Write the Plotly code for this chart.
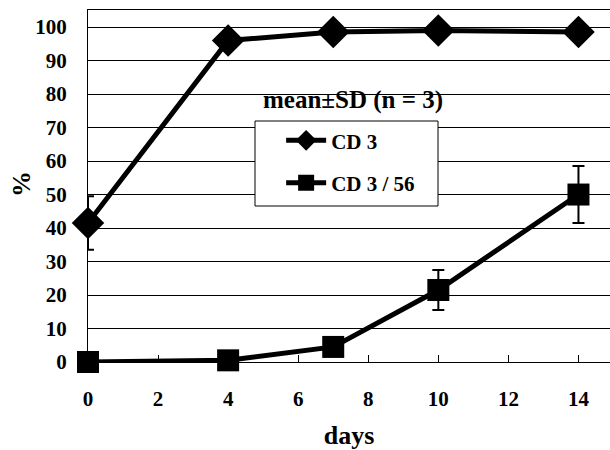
import plotly.graph_objects as go

days = [0, 4, 7, 10, 14]
cd3_mean = [41.5, 96, 98.5, 99, 98.5]
cd3_sd = [8, 1, 0.5, 0.5, 0.5]
cd356_mean = [0, 0.5, 4.5, 21.5, 50]
cd356_sd = [0.3, 0.3, 1, 6, 8.5]
x_ticks = [0, 2, 4, 6, 8, 10, 12, 14]
y_ticks = [0, 10, 20, 30, 40, 50, 60, 70, 80, 90, 100]

FONT = "Liberation Serif, Times New Roman, DejaVu Serif, serif"

fig = go.Figure()
fig.add_trace(go.Scatter(
    x=days, y=cd3_mean, name="<b>CD 3</b>", mode="lines+markers",
    line=dict(color="black", width=5),
    marker=dict(symbol="diamond", size=25, color="black"),
    error_y=dict(type="data", array=cd3_sd, color="black", thickness=2, width=6),
    cliponaxis=False, legendgroup="a",
))
fig.add_trace(go.Scatter(
    x=days, y=cd356_mean, name="<b>CD 3 / 56</b>", mode="lines+markers",
    line=dict(color="black", width=5),
    marker=dict(symbol="square", size=22, color="black"),
    error_y=dict(type="data", array=cd356_sd, color="black", thickness=2, width=6),
    cliponaxis=False, legendgroup="b",
))

fig.update_layout(
    width=610, height=450,
    margin=dict(l=88, r=0, t=10, b=88),
    paper_bgcolor="white", plot_bgcolor="white",
    font=dict(family=FONT, color="black", size=21),
    showlegend=True,
    legend=dict(
        x=0.37, y=0.687, xanchor="left", yanchor="top",
        bgcolor="rgba(0,0,0,0)", borderwidth=0,
        font=dict(family=FONT, size=21, color="black"),
        traceorder="grouped", tracegroupgap=12, itemwidth=40,
    ),
    shapes=[dict(
        type="rect", xref="paper", yref="paper",
        x0=(255 - 88) / 522, x1=(438 - 88) / 522,
        y0=(362 - 206) / 352, y1=(362 - 121) / 352,
        line=dict(color="black", width=1), fillcolor="white", layer="above",
    )],
    xaxis=dict(
        range=[0, 14.9], tickvals=x_ticks, ticktext=[f"<b>{v}</b>" for v in x_ticks],
        showgrid=False, zeroline=False,
        showline=True, linecolor="black", linewidth=1, mirror=True,
        ticks="inside", ticklen=7, tickcolor="black",
        ticklabelstandoff=18,
        tickfont=dict(family=FONT, size=21),
        title=dict(text="<b>days</b>", font=dict(family=FONT, size=26), standoff=20),
    ),
    yaxis=dict(
        range=[0, 105.1], tickvals=y_ticks, ticktext=[f"<b>{v}</b>" for v in y_ticks],
        showgrid=True, gridcolor="black", gridwidth=1, zeroline=False,
        showline=True, linecolor="black", linewidth=1,
        ticks="", ticklabelstandoff=16,
        tickfont=dict(family=FONT, size=21),
    ),
    annotations=[
        dict(
            text="<b>mean±SD (n = 3)</b>", x=(353 - 88) / 522, y=(362 - 100) / 352,
            xref="paper", yref="paper",
            showarrow=False, font=dict(family=FONT, size=25, color="black"),
            xanchor="center", yanchor="middle",
        ),
        dict(
            text="<b>%</b>", x=(22 - 88) / 522, y=(362 - 184) / 352,
            xref="paper", yref="paper", textangle=-90,
            showarrow=False, font=dict(family=FONT, size=26, color="black"),
            xanchor="center", yanchor="middle",
        ),
    ],
)

fig.write_html("out.html", config={"displayModeBar": False},
               post_script="document.body.style.margin='0';")
